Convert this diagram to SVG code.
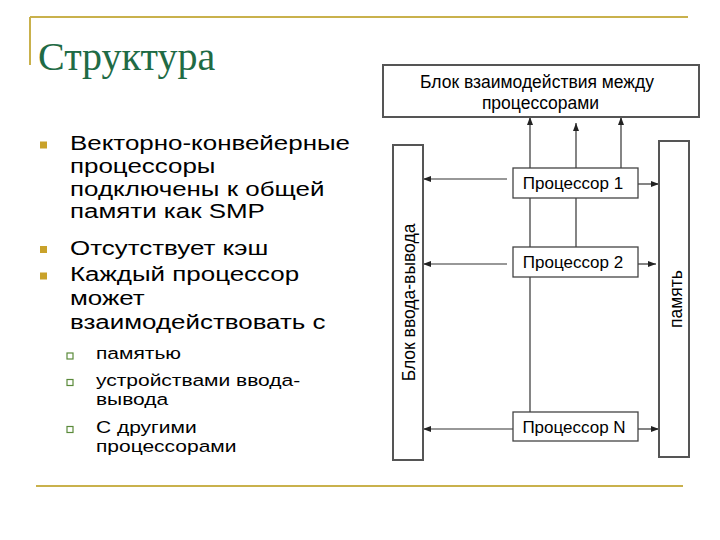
<svg xmlns="http://www.w3.org/2000/svg" width="720" height="540" viewBox="0 0 720 540">
<style>
.gold{stroke:#c9b14c;stroke-width:2;fill:none}
.title{font-family:"Liberation Serif","Times New Roman",serif;font-size:40px;fill:#1f6b45}
.body{font-family:"Liberation Sans",Arial,sans-serif;fill:#000}
.b1{font-size:21px}
.b2{font-size:17px}
.blt{fill:#c9a22a}
.sub{fill:#fff;stroke:#5a8a3a;stroke-width:1.2}
.blk{fill:#fff;stroke:#555;stroke-width:2}
.prc{fill:#fff;stroke:#444;stroke-width:1.3}
.lbl{font-family:"Liberation Sans",Arial,sans-serif;font-size:17px;fill:#000}
.big{font-size:17.5px}
.con{stroke:#333;stroke-width:1.2;fill:none}
</style>
<defs>
<marker id="ah" viewBox="0 0 8 6" refX="8" refY="3" markerWidth="8" markerHeight="6" markerUnits="userSpaceOnUse" orient="auto">
<path d="M0,0 L8,3 L0,6 z" fill="#222"/>
</marker>
</defs>
<rect width="720" height="540" fill="#fff"/>
<g id="frame">
<line class="gold" x1="30" y1="17" x2="688" y2="17"/>
<line class="gold" x1="30" y1="17" x2="30" y2="65"/>
<line class="gold" x1="36" y1="486" x2="683" y2="486"/>
</g>
<text class="title" x="38" y="70">Структура</text>
<g id="bullets">
<rect class="blt" x="40" y="141.5" width="7" height="7"/>
<rect class="blt" x="40" y="246" width="7" height="7"/>
<rect class="blt" x="40" y="272.5" width="7" height="7"/>
<rect class="sub" x="67" y="353" width="6" height="6"/>
<rect class="sub" x="67" y="379.5" width="6" height="6"/>
<rect class="sub" x="67" y="426.5" width="6" height="6"/>
</g>
<g class="body" transform="scale(1.235,1)">
<text class="b1" x="56.7" y="150.5">Векторно-конвейерные</text>
<text class="b1" x="56.7" y="173">процессоры</text>
<text class="b1" x="56.7" y="196">подключены к общей</text>
<text class="b1" x="56.7" y="218.5">памяти как SMP</text>
<text class="b1" x="56.7" y="255">Отсутствует кэш</text>
<text class="b1" x="56.7" y="281.5">Каждый процессор</text>
<text class="b1" x="56.7" y="305.5">может</text>
<text class="b1" x="56.7" y="329.5">взаимодействовать с</text>
<text class="b2" x="77.7" y="359.5">памятью</text>
<text class="b2" x="77.7" y="386">устройствами ввода-</text>
<text class="b2" x="77.7" y="405.5">вывода</text>
<text class="b2" x="77.7" y="433">С другими</text>
<text class="b2" x="77.7" y="452.5">процессорами</text>
</g>
<g id="connectors">
<line class="con" x1="530" y1="412" x2="530" y2="117" marker-end="url(#ah)"/>
<line class="con" x1="576" y1="247" x2="576" y2="123" marker-end="url(#ah)"/>
<line class="con" x1="621" y1="168" x2="621" y2="117" marker-end="url(#ah)"/>
<line class="con" x1="507" y1="179" x2="423" y2="179" marker-end="url(#ah)"/>
<line class="con" x1="638" y1="184" x2="659" y2="184" marker-end="url(#ah)"/>
<line class="con" x1="507" y1="264" x2="423" y2="264" marker-end="url(#ah)"/>
<line class="con" x1="638" y1="264" x2="656" y2="264" marker-end="url(#ah)"/>
<line class="con" x1="513" y1="429" x2="423" y2="429" marker-end="url(#ah)"/>
<line class="con" x1="638" y1="429" x2="659" y2="429" marker-end="url(#ah)"/>
</g>
<g id="interconnect">
<rect class="blk" x="383" y="65" width="316" height="52"/>
<text class="lbl big" x="537" y="87.5" text-anchor="middle">Блок взаимодействия между</text>
<text class="lbl big" x="540.5" y="108.5" text-anchor="middle">процессорами</text>
</g>
<g id="io">
<rect class="blk" x="393" y="145" width="30" height="315"/>
<text class="lbl big" transform="translate(415,302.5) rotate(-90)" text-anchor="middle">Блок ввода-вывода</text>
</g>
<g id="memory">
<rect class="blk" x="659" y="141" width="30" height="316"/>
<text class="lbl big" transform="translate(682,299) rotate(-90)" text-anchor="middle">память</text>
</g>
<g id="proc1">
<rect class="prc" x="513" y="168" width="125" height="30"/>
<text class="lbl" x="573" y="188.5" text-anchor="middle">Процессор 1</text>
</g>
<g id="proc2">
<rect class="prc" x="513" y="247" width="125" height="30"/>
<text class="lbl" x="573" y="268" text-anchor="middle">Процессор 2</text>
</g>
<g id="procN">
<rect class="prc" x="513" y="412" width="125" height="29"/>
<text class="lbl" x="574" y="432.5" text-anchor="middle">Процессор N</text>
</g>
</svg>
